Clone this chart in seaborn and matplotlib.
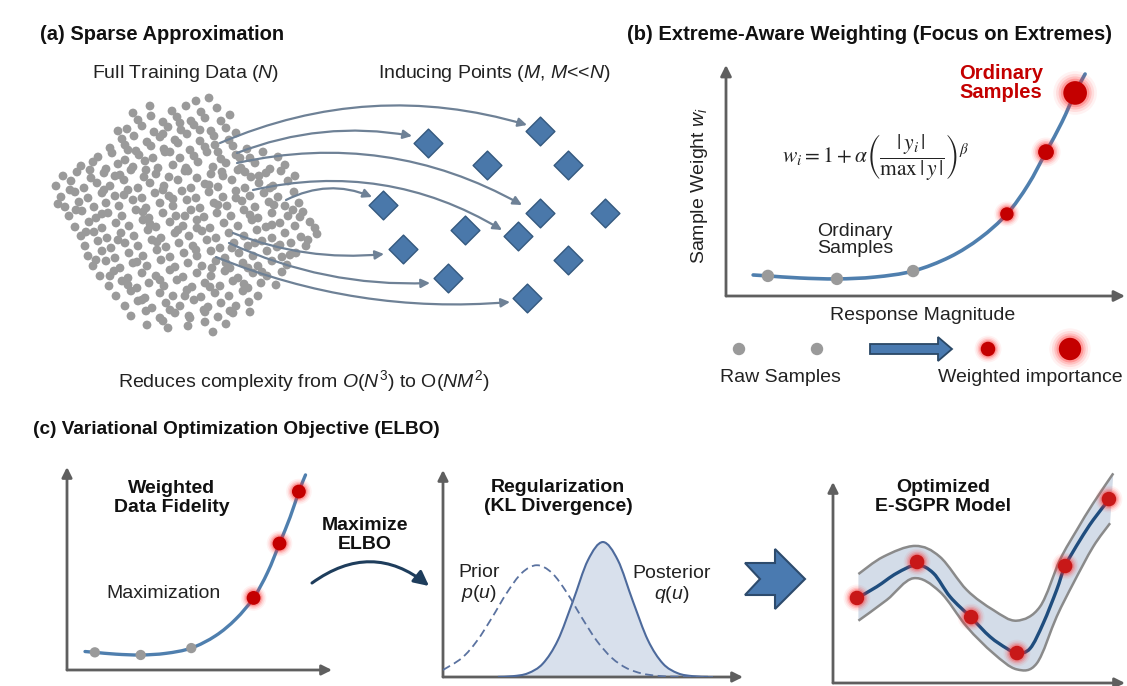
import numpy as np
import matplotlib
matplotlib.use("Agg")
import matplotlib.pyplot as plt
import seaborn as sns
from matplotlib.path import Path
from matplotlib.patches import PathPatch, FancyArrowPatch, Polygon, FancyArrow

sns.set_theme(style="white")
plt.rcParams["font.family"] = ["Liberation Sans", "DejaVu Sans"]
plt.rcParams["mathtext.fontset"] = "custom"
plt.rcParams["mathtext.rm"] = "Liberation Sans"
plt.rcParams["mathtext.it"] = "Liberation Sans:italic"
plt.rcParams["mathtext.bf"] = "Liberation Sans:bold"

# ---------------------------------------------------------------- data
# (a) full training data cloud (panel units)
cloud_pts = [
    (196, 101), (209, 98),
    (172, 111), (186, 106), (201, 112), (217, 108),
    (138, 120), (151, 116), (163, 122), (177, 117), (191, 121), (205, 118), (221, 121),
    (127, 129), (142, 126), (154, 132), (168, 127), (181, 130), (194, 125), (211, 131), (226, 128),
    (122, 139), (134, 136), (147, 142), (160, 137), (175, 140), (187, 134), (200, 141), (214, 136), (229, 140),
    (110, 148), (125, 145), (136, 151), (151, 146), (164, 149), (178, 143), (190, 150), (205, 147), (218, 152),
    (233, 146), (247, 149),
    (98, 157), (112, 153), (125, 160), (139, 155), (153, 158), (165, 152), (180, 158), (194, 156), (207, 152),
    (221, 159), (236, 155), (250, 158), (263, 152), (278, 157),
    (81, 166), (93, 162), (106, 169), (118, 164), (133, 167), (145, 161), (158, 168), (173, 165), (186, 168),
    (198, 162), (213, 167), (226, 163), (241, 168), (255, 163), (270, 169), (285, 165),
    (63, 176), (77, 172), (91, 178), (104, 173), (115, 176), (131, 170), (144, 177), (156, 174), (169, 177),
    (185, 171), (197, 178), (211, 174), (223, 176), (238, 170), (251, 177), (266, 173), (281, 171), (295, 176),
    (56, 186), (71, 181), (84, 188), (97, 183), (110, 186), (124, 180), (138, 188), (150, 183), (164, 186),
    (178, 180), (191, 188), (205, 184), (218, 187), (232, 180), (245, 188), (259, 183), (273, 186), (288, 181),
    (61, 197), (75, 192), (88, 198), (102, 193), (115, 196), (128, 190), (142, 198), (155, 193), (169, 196),
    (182, 191), (196, 198), (209, 192), (223, 197), (236, 191), (250, 196), (264, 193), (278, 197), (294, 192),
    (65, 207), (79, 202), (94, 207), (106, 203), (119, 206), (133, 200), (146, 208), (160, 203), (173, 206),
    (187, 200), (200, 208), (214, 203), (227, 206), (242, 201), (255, 207), (269, 202), (285, 206), (299, 203),
    (69, 216), (82, 211), (96, 218), (108, 213), (122, 216), (136, 210), (149, 218), (163, 213), (176, 216),
    (191, 210), (204, 217), (217, 213), (231, 216), (244, 210), (258, 218), (272, 213), (288, 216), (303, 212),
    (75, 227), (89, 222), (102, 228), (116, 223), (129, 226), (143, 220), (156, 227), (170, 222), (183, 226),
    (197, 220), (210, 228), (224, 223), (238, 226), (252, 220), (266, 227), (280, 223), (295, 226), (310, 222),
    (81, 236), (94, 232), (107, 238), (121, 233), (134, 236), (148, 230), (161, 238), (175, 233), (189, 236),
    (202, 231), (216, 238), (229, 233), (244, 236), (257, 230), (272, 238), (285, 233), (301, 237), (317, 234),
    (85, 246), (98, 241), (111, 248), (125, 243), (138, 246), (152, 240), (166, 247), (179, 243), (193, 246),
    (207, 240), (220, 248), (234, 243), (248, 246), (262, 241), (277, 247), (291, 243), (306, 246),
    (88, 256), (102, 251), (115, 258), (129, 253), (143, 256), (157, 250), (170, 257), (184, 253), (197, 256),
    (211, 251), (225, 258), (239, 253), (253, 256), (267, 251), (282, 257), (296, 253),
    (93, 266), (106, 261), (120, 268), (133, 263), (147, 266), (161, 260), (175, 267), (188, 263), (202, 266),
    (216, 261), (230, 268), (243, 263), (258, 266), (272, 261), (287, 265),
    (100, 276), (114, 271), (128, 278), (142, 273), (156, 276), (170, 270), (183, 277), (197, 273), (211, 276),
    (225, 271), (238, 278), (253, 273), (267, 276), (282, 272),
    (109, 286), (122, 281), (137, 288), (149, 283), (164, 286), (177, 280), (192, 287), (205, 283), (220, 286),
    (233, 281), (248, 288), (261, 283), (276, 285),
    (116, 296), (131, 291), (145, 298), (160, 293), (173, 296), (187, 290), (201, 297), (215, 293), (229, 296),
    (243, 291), (258, 296),
    (125, 306), (138, 301), (152, 308), (166, 303), (180, 306), (194, 300), (208, 307), (221, 303), (236, 306),
    (249, 302),
    (131, 316), (146, 311), (160, 318), (175, 313), (189, 316), (204, 310), (218, 317), (233, 313),
    (147, 325), (163, 321), (188, 326), (205, 322), (226, 324),
    (213, 332),
    # denser, less regular core
    (150, 106), (230, 115), (133, 113), (118, 131), (236, 133), (240, 158), (90, 170), (70, 190), (58, 204),
    (76, 210), (128, 150), (146, 170), (200, 130), (215, 145), (170, 152), (188, 171), (163, 190), (124, 195),
    (209, 185), (236, 198), (250, 215), (272, 225), (300, 217), (308, 240), (290, 255), (262, 272), (244, 284),
    (226, 263), (196, 250), (178, 230), (150, 224), (118, 240), (96, 260), (110, 276), (137, 262), (160, 280),
    (185, 296), (205, 312), (230, 311), (170, 310), (142, 300), (212, 268), (255, 243), (274, 205), (259, 176),
    (222, 172), (173, 199), (143, 212), (102, 214), (86, 232), (157, 242), (232, 248), (197, 228), (218, 205),
    (185, 216), (128, 285), (248, 268), (280, 245), (315, 228), (293, 210), (120, 175), (104, 190), (180, 123),
    (163, 134), (245, 172), (270, 188), (210, 287), (190, 318), (168, 328), (250, 312),
]
cloud_x = [p[0] for p in cloud_pts]
cloud_y = [p[1] for p in cloud_pts]

# (a) inducing points
inducing_x = [540, 428, 487, 568, 383, 540, 605, 465, 518, 403, 568, 448, 527]
inducing_y = [131, 143, 165, 165, 205, 213, 213, 230, 236, 249, 260, 278, 298]

# (a) data-to-inducing links: start, end, bend
link_x0 = [220, 237, 237, 253, 286, 233, 229, 216]
link_y0 = [143, 153, 163, 190, 200, 233, 243, 257]
link_x1 = [527, 412, 522, 502, 372, 384, 430, 510]
link_y1 = [125, 136, 205, 230, 197, 254, 283, 302]
link_bend = [-0.18, -0.14, -0.19, -0.20, -0.23, 0.12, 0.12, 0.12]

# (b)/(c) extreme-aware weighting curve
resp_curve = [0.068, 0.105, 0.185, 0.278, 0.373, 0.469, 0.561, 0.637, 0.704, 0.757, 0.802, 0.842, 0.875, 0.900]
weight_curve = [0.091, 0.087, 0.078, 0.074, 0.082, 0.108, 0.169, 0.251, 0.355, 0.481, 0.623, 0.753, 0.879, 0.961]
raw_resp = [0.105, 0.278, 0.469]
raw_weight = [0.087, 0.074, 0.108]
ext_resp = [0.704, 0.802, 0.875]
ext_weight = [0.355, 0.623, 0.879]

# (c) prior and posterior densities
prior_x = [0.0, 0.063, 0.113, 0.163, 0.213, 0.263, 0.313, 0.363, 0.413, 0.463, 0.513, 0.563, 0.613, 0.663,
           0.713, 0.763, 0.813, 0.900]
prior_y = [0.034, 0.092, 0.174, 0.286, 0.407, 0.503, 0.540, 0.503, 0.407, 0.286, 0.174, 0.092, 0.042, 0.017,
           0.006, 0.002, 0.001, 0.0]
post_x = [0.183, 0.233, 0.283, 0.333, 0.383, 0.433, 0.483, 0.533, 0.583, 0.633, 0.683, 0.733, 0.783, 0.833,
          0.883]
post_y = [0.0005, 0.004, 0.018, 0.065, 0.178, 0.366, 0.564, 0.652, 0.564, 0.366, 0.178, 0.065, 0.018, 0.004,
          0.0005]

# (c) optimized E-SGPR model
obs_x = [0.082, 0.288, 0.473, 0.630, 0.795, 0.945]
obs_y = [0.423, 0.602, 0.328, 0.149, 0.582, 0.915]
mean_x = [0.081, 0.150, 0.218, 0.287, 0.344, 0.401, 0.472, 0.538, 0.595, 0.631, 0.675, 0.720, 0.766, 0.795,
          0.846, 0.891, 0.946]
mean_y = [0.421, 0.479, 0.546, 0.587, 0.546, 0.429, 0.327, 0.230, 0.172, 0.148, 0.172, 0.297, 0.463, 0.582,
          0.711, 0.811, 0.914]
upper_x = [0.087, 0.172, 0.281, 0.366, 0.458, 0.549, 0.629, 0.709, 0.777, 0.835, 0.891, 0.960]
upper_y = [0.542, 0.628, 0.682, 0.628, 0.463, 0.363, 0.310, 0.380, 0.612, 0.761, 0.894, 1.043]
lower_x = [0.087, 0.184, 0.275, 0.366, 0.458, 0.549, 0.629, 0.698, 0.766, 0.823, 0.891, 0.949]
lower_y = [0.310, 0.413, 0.521, 0.454, 0.280, 0.148, 0.068, 0.098, 0.330, 0.496, 0.678, 0.795]

# ---------------------------------------------------------------- styling
W, H = 1127, 686
AXIS_C = "#5f5f5f"
CURVE_C = "#4f7fae"
RED = "#c40000"
GRAY = "#9a9a9a"
DIAMOND = "#4a78aa"
DIAMOND_EDGE = "#34597f"
LINK_C = "#6e8196"

fig = plt.figure(figsize=(W / 100, H / 100), dpi=100)
fig.patch.set_facecolor("white")


def rect(x0, y0, x1, y1):
    return [x0 / W, 1 - y1 / H, (x1 - x0) / W, (y1 - y0) / H]


def smooth_path(xs, ys):
    pts = np.column_stack([xs, ys]).astype(float)
    n = len(pts)
    verts = [pts[0]]
    codes = [Path.MOVETO]
    for i in range(n - 1):
        p0 = pts[i - 1] if i > 0 else pts[i]
        p1, p2 = pts[i], pts[i + 1]
        p3 = pts[i + 2] if i + 2 < n else pts[i + 1]
        verts += [p1 + (p2 - p0) / 6, p2 - (p3 - p1) / 6, p2]
        codes += [Path.CURVE4] * 3
    return verts, codes


def add_curve(ax, xs, ys, **kw):
    v, c = smooth_path(xs, ys)
    ax.add_patch(PathPatch(Path(v, c), fill=False, **kw))


def axis_arrows(ax, lw=2.0, ms=16):
    for tip in [(1, 0), (0, 1)]:
        ax.annotate("", xy=tip, xytext=(0, 0), xycoords="axes fraction",
                    arrowprops=dict(arrowstyle="-|>", lw=lw, color=AXIS_C, mutation_scale=ms,
                                    shrinkA=0, shrinkB=0), annotation_clip=False)


def glow_point(ax, x, y, s, core=RED):
    for k, a in [(3.4, 0.06), (2.6, 0.10), (1.95, 0.16), (1.45, 0.26)]:
        sns.scatterplot(x=[x], y=[y], s=s * k, color="#ff2a2a", alpha=a, edgecolor="none",
                        ax=ax, legend=False, zorder=4, clip_on=False)
    sns.scatterplot(x=[x], y=[y], s=s, color=core, edgecolor="none", ax=ax, legend=False,
                    zorder=5, clip_on=False)


# overlay for titles, labels and connectors (pixel units)
ov = fig.add_axes([0, 0, 1, 1])
ov.set_xlim(0, W)
ov.set_ylim(H, 0)
ov.axis("off")

TITLE = dict(fontsize=14.5, fontweight="bold", va="center", ha="left", color="#111111")
LBL = dict(fontsize=14, ha="center", va="center", color="#222222")
BLBL = dict(fontsize=14, ha="center", va="center", color="#111111", fontweight="bold", linespacing=1.1)

# ---------------------------------------------------------------- (a)
ov.text(40, 35, "(a) Sparse Approximation", **TITLE)
ov.text(186, 73, "Full Training Data ($N$)", **LBL)
ov.text(494, 73, "Inducing Points ($M$, $M$<<$N$)", **LBL)
ov.text(118, 381, "Reduces complexity from $O(N^3)$ to O($NM^2$)", fontsize=14, ha="left", va="center",
        color="#222222")

axa = fig.add_axes(rect(40, 90, 640, 340))
axa.set_xlim(40, 640)
axa.set_ylim(340, 90)
axa.axis("off")
sns.scatterplot(x=cloud_x, y=cloud_y, s=40, color=GRAY, edgecolor="none", ax=axa, legend=False,
                zorder=2, clip_on=False)
for x0, y0, x1, y1, b in zip(link_x0, link_y0, link_x1, link_y1, link_bend):
    axa.add_patch(FancyArrowPatch((x0, y0), (x1, y1), connectionstyle=f"arc3,rad={b}",
                                  arrowstyle="-|>", mutation_scale=13, lw=1.6, color=LINK_C,
                                  shrinkA=0, shrinkB=0, zorder=3))
sns.scatterplot(x=inducing_x, y=inducing_y, marker="D", s=215, color=DIAMOND, edgecolor=DIAMOND_EDGE,
                linewidth=1.0, ax=axa, legend=False, zorder=4, clip_on=False)

# ---------------------------------------------------------------- (b)
ov.text(627, 35, "(b) Extreme-Aware Weighting (Focus on Extremes)", **TITLE)
axb = fig.add_axes(rect(726, 65, 1125, 296))
axb.set_xlim(0, 1)
axb.set_ylim(0, 1)
axb.axis("off")
axis_arrows(axb)
add_curve(axb, resp_curve, weight_curve, ec=CURVE_C, lw=2.6, zorder=3, capstyle="round")
sns.scatterplot(x=raw_resp, y=raw_weight, s=80, color=GRAY, edgecolor="none", ax=axb, legend=False, zorder=5)
for x, y, s in zip(ext_resp, ext_weight, [95, 130, 290]):
    glow_point(axb, x, y, s)

ov.text(700, 185, "Sample Weight $w_i$", rotation=90, **LBL)
ov.text(876, 158, r"$w_i = 1 + \alpha\left(\dfrac{|\,y_i\,|}{\max\,|\,y\,|}\right)^{\beta}$",
        fontsize=15.5, ha="center", va="center", math_fontfamily="stix", color="#222222")
ov.text(855, 240, "Ordinary\nSamples", linespacing=1.0, **LBL)
ov.text(1001, 83, "Ordinary\nSamples", fontsize=14.5, fontweight="bold", color=RED, ha="center",
        va="center", linespacing=1.0)
ov.text(923, 316, "Response Magnitude", **LBL)

# legend strip: raw samples -> weighted importance
sns.scatterplot(x=[739, 817], y=[349, 349], s=80, color=GRAY, edgecolor="none", ax=ov, legend=False)
ov.add_patch(FancyArrow(870, 349, 82, 0, width=10, head_width=24, head_length=14,
                        length_includes_head=True, fc="#4a7ab0", ec="#2a4866", lw=1.3))
glow_point(ov, 988, 349, 110)
glow_point(ov, 1070, 349, 260)
ov.text(780, 378, "Raw Samples", **LBL)
ov.text(1030, 378, "Weighted importance", **LBL)

# ---------------------------------------------------------------- (c)
ov.text(33, 430, "(c) Variational Optimization Objective (ELBO)", **{**TITLE, "fontsize": 13.7})

# data fidelity
axc1 = fig.add_axes(rect(67, 467, 332, 670))
axc1.set_xlim(0, 1)
axc1.set_ylim(0, 1)
axc1.axis("off")
axis_arrows(axc1, ms=15)
add_curve(axc1, resp_curve, weight_curve, ec=CURVE_C, lw=2.4, zorder=3, capstyle="round")
sns.scatterplot(x=raw_resp, y=raw_weight, s=55, color=GRAY, edgecolor="none", ax=axc1, legend=False, zorder=5)
for x, y in zip(ext_resp, ext_weight):
    glow_point(axc1, x, y, 100)
ov.text(172, 498, "Weighted\nData Fidelity", **BLBL)
ov.text(163, 593, "Maximization", **LBL)

ov.text(365, 535, "Maximize\nELBO", **BLBL)
ov.add_patch(FancyArrowPatch((312, 583), (429, 586), connectionstyle="arc3,rad=-0.38",
                             arrowstyle="-|>", mutation_scale=22, lw=2.2, color="#1e3d5c",
                             shrinkA=0, shrinkB=0))

# KL regularization
axc2 = fig.add_axes(rect(443, 470, 743, 677))
axc2.set_xlim(0, 1)
axc2.set_ylim(0, 1)
axc2.axis("off")
axis_arrows(axc2, ms=15)
pv, pc = smooth_path(post_x, post_y)
fill_v = pv + [(post_x[-1], 0), (post_x[0], 0), (0, 0)]
fill_c = pc + [Path.LINETO, Path.LINETO, Path.CLOSEPOLY]
axc2.add_patch(PathPatch(Path(fill_v, fill_c), fc="#d8e0ec", ec="none", zorder=1))
add_curve(axc2, post_x, post_y, ec="#4d6a9c", lw=1.5, zorder=3)
add_curve(axc2, prior_x, prior_y, ec="#5a72a0", lw=1.3, ls=(0, (4.5, 2.5)), zorder=3)
ov.text(558, 497, "Regularization\n(KL Divergence)", **BLBL)
ov.text(479, 584, "Prior\n$p$($u$)", linespacing=1.1, **LBL)
ov.text(672, 585, "Posterior\n$q$($u$)", linespacing=1.1, **LBL)

# step arrow
ov.add_patch(Polygon([(745, 563), (775, 563), (775, 549), (805, 579), (775, 609), (775, 595),
                      (745, 595), (760, 579)], closed=True, fc="#4a7ab0", ec="#2d4b6d", lw=1.5))

# optimized model
axc3 = fig.add_axes(rect(833, 482, 1125, 683))
axc3.set_xlim(0, 1)
axc3.set_ylim(0, 1)
axc3.axis("off")
axis_arrows(axc3, ms=15)
uv, uc = smooth_path(upper_x, upper_y)
lv, lc = smooth_path(lower_x[::-1], lower_y[::-1])
band_v = uv + lv + [uv[0]]
band_c = uc + [Path.LINETO] + lc[1:] + [Path.CLOSEPOLY]
axc3.add_patch(PathPatch(Path(band_v, band_c), fc="#d3dce8", ec="none", zorder=1, clip_on=False))
add_curve(axc3, upper_x, upper_y, ec="#8a8a8a", lw=1.8, zorder=2, clip_on=False)
add_curve(axc3, lower_x, lower_y, ec="#8a8a8a", lw=1.8, zorder=2, clip_on=False)
add_curve(axc3, mean_x, mean_y, ec="#1f4d7e", lw=2.4, zorder=3, clip_on=False)
for x, y in zip(obs_x, obs_y):
    glow_point(axc3, x, y, 110, core="#c81818")
ov.text(943, 497, "Optimized\nE-SGPR Model", **BLBL)

fig.savefig("out.png", dpi=100, facecolor="white")
